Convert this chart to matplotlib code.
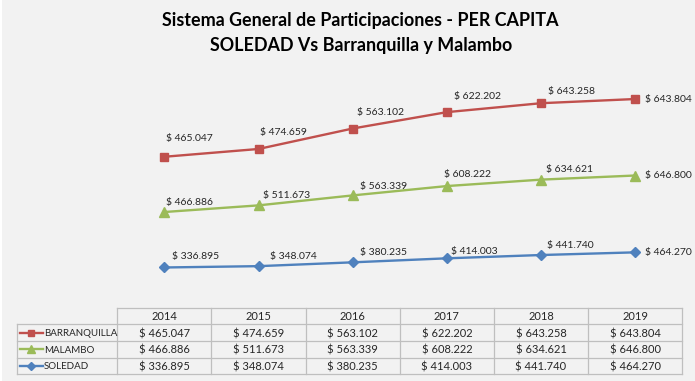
import matplotlib
matplotlib.use("Agg")
import matplotlib.pyplot as plt
from matplotlib.patches import Rectangle
from matplotlib.lines import Line2D
import numpy as np

years = ["2014", "2015", "2016", "2017", "2018", "2019"]
series_names = ["BARRANQUILLA", "MALAMBO", "SOLEDAD"]
barranquilla = [465.047, 474.659, 563.102, 622.202, 643.258, 643.804]
malambo = [466.886, 511.673, 563.339, 608.222, 634.621, 646.800]
soledad = [336.895, 348.074, 380.235, 414.003, 441.740, 464.270]
title_lines = ["Sistema General de Participaciones - PER CAPITA",
               "SOLEDAD Vs Barranquilla y Malambo"]

# styles
colors = {"BARRANQUILLA": "#C0504D", "MALAMBO": "#9BBB59", "SOLEDAD": "#4F81BD"}
markers = {"BARRANQUILLA": ("s", 5.8), "MALAMBO": ("^", 6.5), "SOLEDAD": ("D", 5.0)}
# label offsets in pixels (dx, dy) relative to each point
label_offsets = {
    "BARRANQUILLA": [(1.5, 18), (1, 16.5), (4, 16.5), (7, 16), (7, 12), (10, 0)],
    "MALAMBO": [(1.5, 9.5), (4.7, 9.7), (7, 9.3), (-3, 11.7), (5, 9.7), (10, 0)],
    "SOLEDAD": [(7.7, 10.7), (11, 10), (7, 9.4), (3.7, 6.6), (6, 9.3), (10, 0)],
}

def fmt(v):
    return "$ " + f"{v:.3f}"

W, H = 695, 381
BG = "#F2F2F2"
TXT = "#262626"
FONT = "Lato"
LBL_FS = 7.5

fig = plt.figure(figsize=(W / 100, H / 100), dpi=100)
fig.patch.set_facecolor(BG)
fig.patches.append(Rectangle((0, 0), 2 / W, 1, transform=fig.transFigure,
                             facecolor="white", edgecolor="none", zorder=0))

# title
fig.text(360 / W, 1 - 20.5 / H, title_lines[0], ha="center", va="center",
         fontsize=12.9, fontweight="bold", family=FONT, color="black")
fig.text(361 / W, 1 - 45 / H, title_lines[1], ha="center", va="center",
         fontsize=12.9, fontweight="bold", family=FONT, color="black")

# plot axes (stacked line chart)
ax_l, ax_r = 117.3, 682.3
ax_t, ax_b = 69.9, 307.5
ax = fig.add_axes([ax_l / W, 1 - ax_b / H, (ax_r - ax_l) / W, (ax_b - ax_t) / H])
ax.set_facecolor("none")
ax.set_xlim(-0.5, 5.5)
ax.set_ylim(0, 2000)
ax.axis("off")

x = np.arange(len(years))
data = {"BARRANQUILLA": barranquilla, "MALAMBO": malambo, "SOLEDAD": soledad}
stack_order = ["SOLEDAD", "MALAMBO", "BARRANQUILLA"]
base = np.zeros(len(years))
for name in stack_order:
    vals = np.array(data[name])
    cum = base + vals
    m, ms = markers[name]
    ax.plot(x, cum, color=colors[name], lw=1.7, marker=m, ms=ms,
            markerfacecolor=colors[name], markeredgecolor=colors[name], zorder=3,
            clip_on=False)
    for i, (xi, yi) in enumerate(zip(x, cum)):
        dx, dy = label_offsets[name][i]
        ax.annotate(fmt(vals[i]), (xi, yi), xytext=(dx, dy), textcoords="offset pixels",
                    ha="left", va="center", fontsize=LBL_FS, family=FONT, color=TXT,
                    zorder=4, annotation_clip=False)
    base = cum

# data table
t_l, t_r, t_t, t_b = 17.0, 682.3, 307.7, 374.3
leg_w = (117.3 - 17.0) / ((682.3 - 117.3) / 6)
tax = fig.add_axes([t_l / W, 1 - t_b / H, (t_r - t_l) / W, (t_b - t_t) / H])
tax.set_facecolor("none")
tax.set_xlim(-leg_w, len(years))
tax.set_ylim(len(series_names) + 1, 0)
tax.axis("off")
grid_c = "#BFBFBF"
glw = 0.9
nrows = len(series_names) + 1
# horizontal lines
tax.plot([0, len(years)], [0, 0], color=grid_c, lw=glw, clip_on=False)
for r in range(1, nrows + 1):
    tax.plot([-leg_w, len(years)], [r, r], color=grid_c, lw=glw, clip_on=False)
# vertical lines
tax.plot([-leg_w, -leg_w], [1, nrows], color=grid_c, lw=glw, clip_on=False)
for c in range(0, len(years) + 1):
    tax.plot([c, c], [0, nrows], color=grid_c, lw=glw, clip_on=False)

for c, yr in enumerate(years):
    tax.text(c + 0.5, 0.5, yr, ha="center", va="center", fontsize=8, family=FONT, color=TXT)
for r, name in enumerate(series_names, start=1):
    for c, v in enumerate(data[name]):
        tax.text(c + 0.5, r + 0.55, fmt(v), ha="center", va="center", fontsize=8,
                 family=FONT, color=TXT)
    # legend key
    k0 = -leg_w + 3 / 94.17
    k1 = -leg_w + 25.7 / 94.17
    m, ms = markers[name]
    tax.add_line(Line2D([k0, k1], [r + 0.5, r + 0.5], color=colors[name], lw=1.7,
                        clip_on=False))
    tax.add_line(Line2D([(k0 + k1) / 2], [r + 0.5], color=colors[name], marker=m,
                        ms=ms * 0.85, clip_on=False))
    tax.text(-leg_w + 27 / 94.17, r + 0.55, name, ha="left", va="center", fontsize=7,
             family=FONT, color=TXT)

fig.savefig("out.png", dpi=100, facecolor=fig.get_facecolor())
